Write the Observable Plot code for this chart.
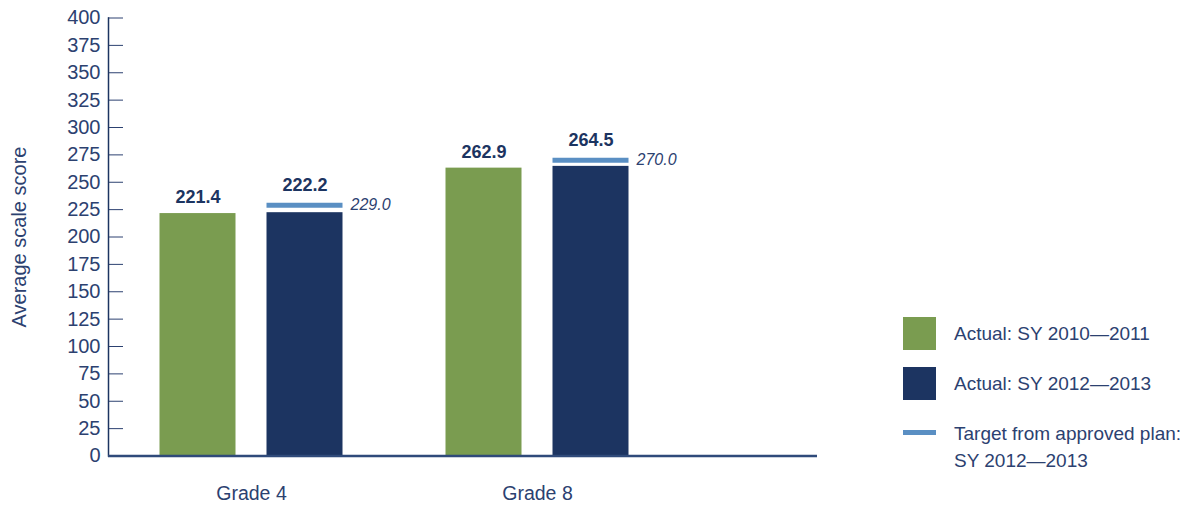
<!DOCTYPE html>
<html>
<head>
<meta charset="utf-8">
<script src="https://cdn.jsdelivr.net/npm/d3@7"></script>
<script src="https://cdn.jsdelivr.net/npm/@observablehq/plot@0.6"></script>
<style>
  html, body { margin: 0; padding: 0; background: #fff; }
  #wrap { position: relative; width: 1197px; height: 506px; font-family: "Liberation Sans", Arial, sans-serif; color: #2c4170; }
  #legend { position: absolute; left: 903px; top: 317px; font-size: 19px; color: #2c4170; }
  .row { display: flex; align-items: center; margin-bottom: 17px; }
  .sw { width: 33px; height: 33px; margin-right: 18px; flex: none; }
  .ln { width: 33px; height: 5px; margin-right: 18px; flex: none; align-self: flex-start; margin-top: 10px; }
  .lbl { line-height: 27px; }
</style>
</head>
<body>
<div id="wrap"></div>
<script>
// Data
const grades = ["Grade 4", "Grade 8"];
const actual2011 = [221.4, 262.9];
const actual2013 = [222.2, 264.5];
const target2013 = [229.0, 270.0];
const yTicks = [0, 25, 50, 75, 100, 125, 150, 175, 200, 225, 250, 275, 300, 325, 350, 375, 400];
const seriesNames = ["Actual: SY 2010\u20142011", "Actual: SY 2012\u20142013", "Target from approved plan: SY 2012\u20142013"];

const GREEN = "#7a9c50";
const NAVY = "#1c3461";
const BLUE = "#5a8fc3";
const INK = "#2c4170";

const rows2011 = grades.map((g, i) => ({grade: g, value: actual2011[i]}));
const rows2013 = grades.map((g, i) => ({grade: g, value: actual2013[i], target: target2013[i]}));

const plot = Plot.plot({
  width: 1197,
  height: 506,
  marginLeft: 108,
  marginRight: 380,
  marginTop: 17.5,
  marginBottom: 50.5,
  style: {fontFamily: "'Liberation Sans', Arial, sans-serif", fontSize: "19px", color: INK, background: "#fff"},
  x: {type: "band", domain: grades, paddingInner: 0, paddingOuter: 0.2395, align: 0, label: null},
  y: {domain: [0, 400], label: null},
  marks: [
    Plot.barY(rows2011, {x: "grade", y: "value", fill: GREEN, dx: -53.5, insetLeft: 105, insetRight: 105}),
    Plot.barY(rows2013, {x: "grade", y: "value", fill: NAVY, dx: 53.5, insetLeft: 105, insetRight: 105}),
    Plot.tickY(rows2013, {x: "grade", y: "target", stroke: BLUE, strokeWidth: 5, dx: 53.5, insetLeft: 105, insetRight: 105}),
    Plot.text(rows2011, {x: "grade", y: "value", text: d => d.value.toFixed(1), dx: -53.5, dy: -16, fontWeight: "bold", fontSize: 18, fill: NAVY}),
    Plot.text(rows2013, {x: "grade", y: d => Math.max(d.value, d.target), text: d => d.value.toFixed(1), dx: 53.5, dy: -20, fontWeight: "bold", fontSize: 18, fill: NAVY}),
    Plot.text(rows2013, {x: "grade", y: "target", text: d => d.target.toFixed(1), dx: 99, dy: 0, textAnchor: "start", fontStyle: "italic", fontSize: 16, fill: INK}),
    Plot.axisY({ticks: yTicks, tickSize: 15, dx: 15, tickPadding: 8, stroke: INK, fill: INK, fontSize: 20, label: "Average scale score", labelAnchor: "center", labelArrow: "none", labelOffset: 97}),
    Plot.axisX({tickSize: 0, tickPadding: 30, fill: INK, fontSize: 19.5, label: null}),
    Plot.frame({anchor: "left", stroke: NAVY, strokeWidth: 1.5}),
    Plot.ruleY([0], {stroke: "#2f4a7a", strokeWidth: 2.5})
  ]
});

const wrap = document.getElementById("wrap");
wrap.appendChild(plot);

const legend = document.createElement("div");
legend.id = "legend";
legend.innerHTML = `
  <div class="row"><div class="sw" style="background:${GREEN}"></div><div class="lbl">${seriesNames[0]}</div></div>
  <div class="row"><div class="sw" style="background:${NAVY}"></div><div class="lbl">${seriesNames[1]}</div></div>
  <div class="row" style="align-items:flex-start;margin-top:20px"><div class="ln" style="background:${BLUE}"></div><div class="lbl">Target from approved plan:<br>SY 2012\u20142013</div></div>
`;
wrap.appendChild(legend);
</script>
</body>
</html>
